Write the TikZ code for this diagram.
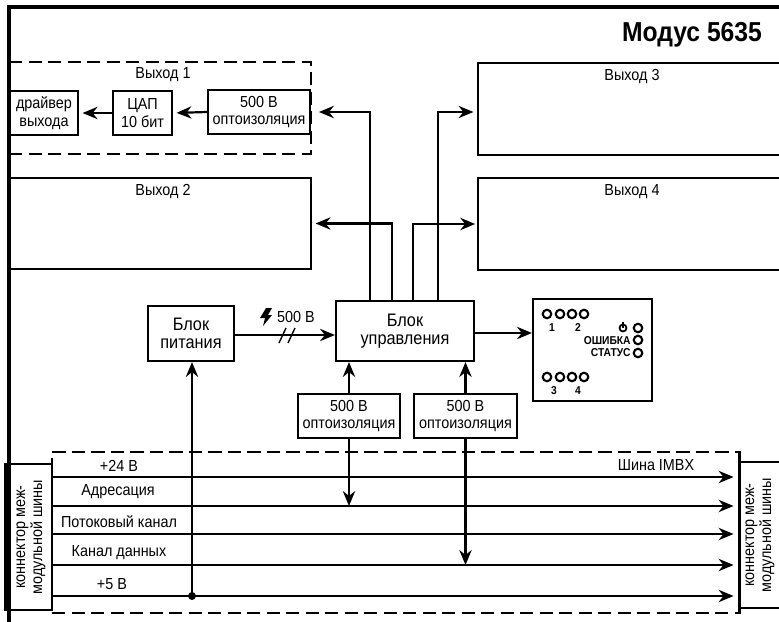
\documentclass[tikz,border=0pt]{standalone}
\usepackage{fontspec}
\setmainfont[FakeStretch=0.9]{Liberation Sans}
\usepackage{tikz}
\usetikzlibrary{arrows.meta, positioning, shapes.geometric, shapes.misc}

\newcommand{\diagfont}{\fontsize{9.1}{9.9}\selectfont}
\newcommand{\blockfont}{\fontsize{10.3}{10}\selectfont}
\newcommand{\connfont}{\fontsize{9.1}{8.6}\selectfont}

\begin{document}
\begin{tikzpicture}[
  x=0.02cm, y=0.02cm,
  every node/.style={font=\diagfont},
  boxnode/.style={draw, line width=1.2pt, inner sep=0pt, align=center},
  dashnode/.style={draw, line width=1.1pt, inner sep=0pt, dash pattern=on 7.5pt off 3.6pt},
  txtnode/.style={inner sep=0pt, align=center},
  ledlamp/.style={draw, circle, line width=1.2pt, minimum size=0.17cm, inner sep=0pt},
  ledtext/.style={inner sep=0pt, font=\fontsize{6.5}{7}\selectfont\bfseries},
  arrowline/.style={-{Stealth[length=8.5pt, width=7pt]}, line width=1.25pt}
]
  \useasboundingbox (0,0) rectangle (779,-622);

  % output channels
  \node[dashnode, minimum width=6.04cm, minimum height=1.84cm] (out1) at (160,-108) {};
  \node[boxnode, minimum width=6.02cm, minimum height=1.82cm] (out2) at (160.5,-223.5) {};
  \node[boxnode, minimum width=6.06cm, minimum height=1.84cm] (out3) at (629.5,-109) {};
  \node[boxnode, minimum width=6.06cm, minimum height=1.84cm] (out4) at (629.5,-224) {};
  \node[txtnode] (out1txt) at (163,-75) {Выход 1};
  \node[txtnode] (out2txt) at (163,-192) {Выход 2};
  \node[txtnode] (out3txt) at (632,-77) {Выход 3};
  \node[txtnode] (out4txt) at (632,-192) {Выход 4};

  \node[boxnode, minimum width=1.36cm, minimum height=0.88cm] (driver) at (44,-113) {драйвер\\выхода};
  \node[boxnode, minimum width=1.18cm, minimum height=0.88cm] (dac) at (142.5,-113) {ЦАП\\10 бит};
  \node[boxnode, minimum width=2.04cm, minimum height=0.88cm] (opto1) at (259,-112) {500 В\\оптоизоляция};

  % power and control
  \node[boxnode, font=\blockfont, minimum width=1.72cm, minimum height=1.10cm] (power) at (191,-333.5) {Блок\\питания};
  \node[boxnode, font=\blockfont, minimum width=2.76cm, minimum height=1.20cm] (ctrl) at (405,-331) {Блок\\управления};
  \node[boxnode, minimum width=2.38cm, minimum height=2.04cm] (panel) at (592.5,-350) {};
  \node[boxnode, minimum width=2.04cm, minimum height=0.88cm] (opto2) at (349,-416) {500 В\\оптоизоляция};
  \node[boxnode, minimum width=2.06cm, minimum height=0.88cm] (opto3) at (465.5,-416) {500 В\\оптоизоляция};
  \node[txtnode] (isotxt) at (296,-317) {500 В};

  % bus
  \node[dashnode, minimum width=13.74cm, minimum height=3.22cm] (bus) at (395.5,-532.5) {};
  \node[boxnode, font=\connfont, fill=white, rotate=90, minimum width=2.92cm, minimum height=0.84cm] (conl) at (31,-537) {коннектор меж-\\модульной шины};
  \node[boxnode, font=\connfont, fill=white, rotate=90, minimum width=2.92cm, minimum height=0.84cm] (conr) at (760,-535) {коннектор меж-\\модульной шины};
  \node[fill=black, inner sep=0pt, minimum width=0.12cm, minimum height=2.96cm] (conbar) at (7,-537) {};
  \node[txtnode] (v24txt) at (119,-466) {+24 В};
  \node[txtnode] (adrtxt) at (118,-492) {Адресация};
  \node[txtnode] (strtxt) at (119,-522) {Потоковый канал};
  \node[txtnode] (dattxt) at (119,-553) {Канал данных};
  \node[txtnode] (v5txt) at (112,-584) {+5 В};
  \node[txtnode] (imbxtxt) at (656,-465) {Шина IMBX};

  \coordinate (bus1) at (52,-477);
  \coordinate (bus2) at (52,-506);
  \coordinate (bus3) at (52,-534);
  \coordinate (bus4) at (52,-565);
  \coordinate (bus5) at (52,-596);

  \draw[arrowline, shorten >=2.5pt] (bus1) -- (bus1 -| conr.north);
  \draw[arrowline, shorten >=2.5pt] (bus2) -- (bus2 -| conr.north);
  \draw[arrowline, shorten >=2.5pt] (bus3) -- (bus3 -| conr.north);
  \draw[arrowline, shorten >=2.5pt] (bus4) -- (bus4 -| conr.north);
  \draw[arrowline, shorten >=2.5pt] (bus5) -- (bus5 -| conr.north);
  \draw[line width=1.1pt] (bus.north east) -- (bus.south east);

  % arrows between the blocks
  \draw[arrowline, shorten >=2pt] (dac.west) -- (driver.east);
  \draw[arrowline, shorten >=2pt] (opto1.west) -- (dac.east);
  \coordinate (ctrl1) at (370,-301);
  \coordinate (ctrl2) at (392,-301);
  \coordinate (ctrl3) at (413,-301);
  \coordinate (ctrl4) at (438,-301);
  \draw[arrowline, shorten >=4.5pt] (ctrl1) |- (opto1.east);
  \draw[arrowline, shorten >=2pt] (ctrl2) |- (out2.east);
  \draw[arrowline, shorten >=1pt] (ctrl3) |- (out4.west);
  \draw[arrowline, shorten >=2pt] (ctrl4) |- (out3.west |- opto1.east);
  \draw[arrowline] (power.east |- 0,-335) -- (ctrl.west |- 0,-335);
  \draw[arrowline] (ctrl.east |- 0,-333) -- (panel.west |- 0,-333);
  \draw[arrowline] (opto2.north) -- (opto2.north |- ctrl.south);
  \draw[arrowline] (opto3.north) -- (opto3.north |- ctrl.south);
  \draw[arrowline] (opto2.south) -- (opto2.south |- bus2);
  \draw[arrowline] (opto3.south) -- (opto3.south |- bus4);
  \coordinate (tap) at (192,-596);
  \draw[arrowline] (tap) -- (tap |- power.south);
  \fill (tap) circle (4);

  % isolation mark
  \fill (266,-308) -- (272,-308) -- (268,-315) -- (272,-315) -- (263,-326) -- (265,-318) -- (260,-318) -- cycle;
  \draw[line width=0.8pt] (279,-343) -- (286,-328);
  \draw[line width=0.8pt] (288,-343) -- (295,-328);

  % indicator panel
  \node[ledlamp] (led1) at (547,-314) {};
  \node[ledlamp] (led2) at (560,-314) {};
  \node[ledlamp] (led3) at (572,-314) {};
  \node[ledlamp] (led4) at (584,-314) {};
  \node[ledlamp] (led5) at (547,-377) {};
  \node[ledlamp] (led6) at (560,-377) {};
  \node[ledlamp] (led7) at (572,-377) {};
  \node[ledlamp] (led8) at (584,-377) {};
  \node[ledlamp] (ledpwr) at (638,-328) {};
  \node[ledlamp] (lederr) at (638,-340) {};
  \node[ledlamp] (ledsts) at (638,-353) {};
  \node[ledtext] (num1) at (552,-328) {1};
  \node[ledtext] (num2) at (578,-328) {2};
  \node[ledtext] (num3) at (554,-391) {3};
  \node[ledtext] (num4) at (578,-391) {4};
  \node[ledtext, anchor=east] (errtxt) at (631,-341) {ОШИБКА};
  \node[ledtext, anchor=east] (ststxt) at (631,-353) {СТАТУС};
  \draw[line width=1pt] (623,-328) circle (3.5);
  \draw[line width=1pt] (623,-322) -- (623,-328);

  % frame and title
  \draw[line width=2.4pt] (9,-622) |- (779,-7);
  \node[inner sep=0pt, font=\fontsize{15.6}{17}\selectfont\bfseries] (title) at (692,-35) {Модус 5635};
\end{tikzpicture}
\end{document}
